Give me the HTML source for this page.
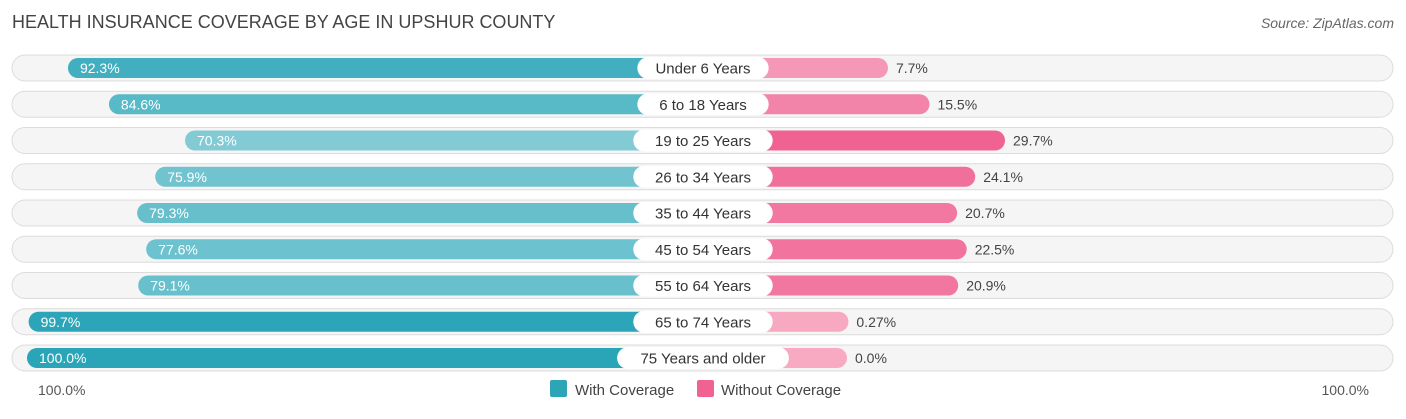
<!DOCTYPE html>
<html><head><meta charset="utf-8"><style>
body{margin:0;background:#fff;font-family:"Liberation Sans",sans-serif;}
svg text{font-family:"Liberation Sans",sans-serif;}
</style></head><body>
<svg id="c" width="1406" height="414" viewBox="0 0 1406 414" xmlns="http://www.w3.org/2000/svg">
<text x="12" y="28" font-size="18" fill="#444">HEALTH INSURANCE COVERAGE BY AGE IN UPSHUR COUNTY</text>
<text x="1394" y="28" font-size="14" fill="#666" font-style="italic" text-anchor="end">Source: ZipAtlas.com</text>
<g id="rows"></g>
<text x="38" y="395" font-size="14" fill="#555">100.0%</text>
<text x="1369" y="395" font-size="14" fill="#555" text-anchor="end">100.0%</text>
<rect x="550" y="380" width="17" height="17" rx="2" fill="#2ca5b7"/>
<text x="575" y="395" font-size="15" fill="#444">With Coverage</text>
<rect x="697" y="380" width="17" height="17" rx="2" fill="#f06292"/>
<text x="721" y="395" font-size="15" fill="#444">Without Coverage</text>
</svg>
<script>
const categories=["Under 6 Years","6 to 18 Years","19 to 25 Years","26 to 34 Years","35 to 44 Years","45 to 54 Years","55 to 64 Years","65 to 74 Years","75 Years and older"];
const withCoverage=[92.3,84.6,70.3,75.9,79.3,77.6,79.1,99.7,100.0];
const withoutCoverage=[7.7,15.5,29.7,24.1,20.7,22.5,20.9,0.27,0.0];
const withLabels=["92.3%","84.6%","70.3%","75.9%","79.3%","77.6%","79.1%","99.7%","100.0%"];
const withoutLabels=["7.7%","15.5%","29.7%","24.1%","20.7%","22.5%","20.9%","0.27%","0.0%"];
const NS="http://www.w3.org/2000/svg";
const g=document.getElementById('rows');
const cx=703, off=144, sc=5.32;
const xL=v=>cx-off-v*sc, xR=v=>cx+off+v*sc;
const rowY=i=>68+i*36.25;
function mix(a,b,t){return 'rgb('+a.map((x,k)=>Math.round(x+(b[k]-x)*t)).join(',')+')';}
const maxW=Math.max(...withCoverage),minW=Math.min(...withCoverage);
const maxO=Math.max(...withoutCoverage),minO=Math.min(...withoutCoverage);
function mk(tag,attrs){const e=document.createElementNS(NS,tag);for(const k in attrs)e.setAttribute(k,attrs[k]);g.appendChild(e);return e;}
categories.forEach((c,i)=>{
  const y=rowY(i);
  const bg=mk('rect',{x:12,y:y-13,width:1381,height:26,rx:13,fill:'#f5f5f5',stroke:'#dcdcdc','stroke-width':1});
  
  
  const tw=(withCoverage[i]-minW)/((maxW-minW)||1);
  const lx=xL(withCoverage[i]);
  const b1=mk('rect',{x:lx,y:y-10,width:cx-lx,height:20,rx:10,fill:mix([130,203,213],[42,165,183],tw)});
  
  
  const to=(withoutCoverage[i]-minO)/((maxO-minO)||1);
  const rx=xR(withoutCoverage[i]);
  const b2=mk('rect',{x:cx,y:y-10,width:rx-cx,height:20,rx:10,fill:mix([247,170,194],[240,98,146],to)});
  
  
  const w=c.length*8.1+26;
  const pill=mk('rect',{x:cx-w/2,y:y-11,width:w,height:22,rx:11,fill:'#fff'});
  
  
  const t=mk('text',{x:cx,y:y+5.5,'font-size':15,fill:'#333','text-anchor':'middle'});t.textContent=c;
  
  
  const vl=mk('text',{x:lx+12,y:y+5,'font-size':14,fill:'#fff'});vl.textContent=withLabels[i];
  
  
  const vr=mk('text',{x:rx+8,y:y+5,'font-size':14,fill:'#444'});vr.textContent=withoutLabels[i];
  
  
});
</script>
</body></html>
